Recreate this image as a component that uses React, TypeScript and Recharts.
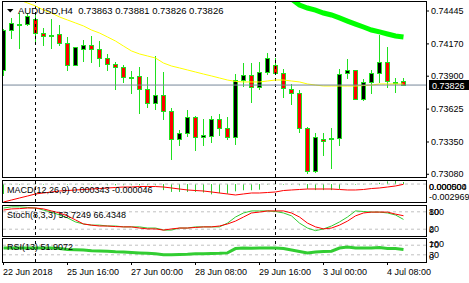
import {
  ComposedChart,
  Bar,
  Line,
  XAxis,
  YAxis,
  ReferenceLine,
} from "recharts";

// AUDUSD H4 candles, oldest first
const opens = [
  0.73952, 0.74286, 0.74336, 0.74336, 0.74378, 0.74261, 0.74244, 0.74253, 0.74177, 0.73994,
  0.74127, 0.74161, 0.74127, 0.74052, 0.74002, 0.73977, 0.73893, 0.73902, 0.73793, 0.73676,
  0.73743, 0.73609, 0.73375, 0.73425, 0.73559, 0.73392, 0.734, 0.73542, 0.73467, 0.73392,
  0.73868, 0.7391, 0.7381, 0.73935, 0.73994, 0.73927, 0.73793, 0.7376, 0.73467, 0.73107,
  0.73375, 0.73375, 0.73383, 0.73927, 0.73952, 0.73709, 0.73851, 0.73927, 0.74019, 0.73851, 0.73863,
];
const highs = [
  0.74294, 0.74386, 0.74428, 0.74428, 0.74428, 0.74303, 0.74378, 0.74328, 0.74228, 0.74144,
  0.74203, 0.74236, 0.74194, 0.74086, 0.74019, 0.73994, 0.73943, 0.73977, 0.73893, 0.74069,
  0.73935, 0.73634, 0.7345, 0.73617, 0.73565, 0.73542, 0.73567, 0.73584, 0.73559, 0.73918,
  0.7401, 0.7401, 0.74019, 0.74094, 0.74052, 0.7396, 0.73835, 0.73785, 0.73475, 0.73425,
  0.73425, 0.73467, 0.7396, 0.74044, 0.73952, 0.73877, 0.73952, 0.74244, 0.74144, 0.73885, 0.73881,
];
const lows = [
  0.7391, 0.74219, 0.74136, 0.7433, 0.74194, 0.74161, 0.74136, 0.74161, 0.73952, 0.73994,
  0.74027, 0.74019, 0.73985, 0.73952, 0.73793, 0.73851, 0.7376, 0.73592, 0.73642, 0.73626,
  0.73542, 0.73208, 0.73325, 0.734, 0.73283, 0.73325, 0.7335, 0.73409, 0.73375, 0.73333,
  0.73818, 0.73684, 0.73793, 0.73918, 0.73918, 0.73726, 0.73668, 0.73433, 0.73091, 0.73099,
  0.73241, 0.73133, 0.73325, 0.73885, 0.73709, 0.73701, 0.7376, 0.73851, 0.7381, 0.73768, 0.73826,
];
const closes = [
  0.74286, 0.74345, 0.7434, 0.74403, 0.74261, 0.74236, 0.7424, 0.74177, 0.73994, 0.74144,
  0.74161, 0.74127, 0.74052, 0.74002, 0.73977, 0.73893, 0.7389, 0.73793, 0.73676, 0.73743,
  0.73609, 0.73375, 0.73425, 0.73559, 0.73392, 0.73409, 0.73542, 0.73467, 0.73392, 0.73868,
  0.7391, 0.7381, 0.73935, 0.74052, 0.73927, 0.73801, 0.7376, 0.73467, 0.73107, 0.73392,
  0.73358, 0.73383, 0.73918, 0.73952, 0.73709, 0.73851, 0.73927, 0.74019, 0.7386, 0.73855, 0.73826,
];

// yellow moving average
const maSlow = [
  0.74587, 0.74562, 0.74537, 0.74512, 0.74487, 0.74453, 0.74428, 0.74395, 0.7437, 0.74345,
  0.7432, 0.74286, 0.74261, 0.74228, 0.74194, 0.74152, 0.74111, 0.74086, 0.74069, 0.74052,
  0.7401, 0.73985, 0.73969, 0.73952, 0.73935, 0.73918, 0.73902, 0.73885, 0.73868, 0.73856,
  0.73852, 0.73852, 0.73852, 0.7386, 0.73868, 0.73868, 0.7386, 0.73852, 0.73835, 0.73826,
  0.73818, 0.73818, 0.73818, 0.73818, 0.73818, 0.73822, 0.73826, 0.73835, 0.73835, 0.73835, 0.73835,
];
// thick green average, only visible from candle 36 on
const maFastStart = 36;
const maFast = [
  0.74545, 0.74495, 0.7447, 0.74453, 0.74428, 0.74412, 0.74387,
  0.74361, 0.74336, 0.74311, 0.74286, 0.7427, 0.74253, 0.74236, 0.74228,
];

const macdMain = [
  -0.00164, -0.0001, -0.0001, -0.0001, -0.0001, -0.0001, -0.0001, -0.0001, -0.0001, -0.0001,
  -0.0001, -0.0001, -0.0001, -0.0002, -0.0002, -0.0002, -0.0002, -0.0002, -0.0002, -0.0002,
  -0.001, -0.0013, -0.0013, -0.0013, -0.0013, -0.0014, -0.0017, -0.0015, -0.0016, -0.0012,
  -0.00103, -0.00103, -0.00093, -0.0001, -0.0001, -0.0001, -0.0001, -0.0002, -0.0008, -0.001,
  -0.001, -0.001, -0.0008, -0.0001, -0.0001, 0.00002, 0.0001, 0.0002, 0.00045, 0.000504, 0.000343,
];
const macdSignal = [
  -0.002969, -0.00264, -0.00231, -0.00198, -0.00164, -0.00148, -0.00131, -0.00115, -0.00107, -0.00098,
  -0.0009, -0.00082, -0.00074, -0.00065, -0.00057, -0.00049, -0.00049, -0.00041, -0.00041, -0.00041,
  -0.00049, -0.00065, -0.00082, -0.00098, -0.00107, -0.00115, -0.00131, -0.00148, -0.00164, -0.00181,
  -0.00164, -0.00148, -0.00148, -0.0014, -0.00131, -0.00107, -0.00098, -0.0009, -0.00082, -0.00082,
  -0.00082, -0.00082, -0.0009, -0.00098, -0.00098, -0.0009, -0.00074, -0.00065, -0.00049, -0.00032, -0.000046,
];

const stochMain = [
  93, 97, 97, 95, 93, 86, 79, 69, 59, 45,
  38, 34, 34, 31, 31, 28, 28, 28, 24, 24,
  17, 17, 24, 24, 28, 28, 28, 28, 41, 62,
  76, 83, 83, 83, 81, 76, 66, 41, 24, 15,
  21, 31, 45, 62, 83, 81, 79, 79, 76, 69, 53.7249,
];
const stochSignal = [
  86, 90, 91, 93, 93, 90, 83, 76, 66, 52,
  38, 34, 31, 31, 29, 28, 28, 24, 21, 21,
  17, 21, 24, 24, 26, 28, 28, 31, 38, 48,
  62, 76, 79, 83, 83, 83, 76, 62, 41, 28,
  21, 24, 34, 48, 66, 76, 79, 79, 79, 72, 66.4348,
];

const rsiValues = [
  58, 58, 58, 58, 58, 58, 58, 56, 52, 51,
  50, 47, 46, 45, 43, 42, 40, 38, 36, 34,
  30, 30, 31, 32, 34, 34, 35, 36, 38, 56,
  58, 57, 58, 58, 58, 56, 50, 44, 38, 42,
  44, 45, 58, 62, 58, 58, 58, 60, 56, 56, 51.9072,
];

const dateTicks = [0, 8, 16, 24, 32, 40, 48];
const dateLabels = [
  "22 Jun 2018",
  "25 Jun 16:00",
  "27 Jun 00:00",
  "28 Jun 08:00",
  "29 Jun 16:00",
  "3 Jul 00:00",
  "4 Jul 08:00",
];
const priceTicks = [0.74445, 0.7417, 0.739, 0.73625, 0.7335, 0.7308];
const macdTicks = [-0.002969, 0, 0.000504];
const stochTicks = [0, 20, 80, 100];
const stochLevels = [20, 80];
const rsiTicks = [0, 30, 70, 100];
const rsiLevels = [30, 70];
const weekSeparators = [4, 34];

const data = opens.map((open, i) => ({
  i,
  open,
  high: highs[i],
  low: lows[i],
  close: closes[i],
  range: [lows[i], highs[i]],
  ma: maSlow[i],
  ma2: i >= maFastStart ? maFast[i - maFastStart] : null,
  macd: macdMain[i],
  signal: macdSignal[i],
  k: stochMain[i],
  d: stochSignal[i],
  rsi: rsiValues[i],
}));

const last = opens.length - 1;
const FONT = "'Liberation Sans', Arial, sans-serif";
const W = 469;
const AXIS_W = 43;
const MARGIN = { top: 0, right: 0, bottom: 0, left: 2 };
const X_DOMAIN: [number, number] = [-0.1875, 52.8125];

const COLORS = {
  candle: "#1fe01f",
  bull: "#000000",
  bear: "#ff0000",
  maSlow: "#ffff00",
  maFast: "#00ff00",
  bid: "#778899",
  level: "#c0c0c0",
  ind: "#32cd32",
  signal: "#ff0000",
};

const Candle = (props: any) => {
  const { x, y, width, height, payload } = props;
  const { open, close, high, low } = payload;
  const top = Math.min(y, y + height);
  const h = Math.abs(height);
  const cx = Math.floor(x + width / 2) + 0.5;
  const py = (v: number) => (high === low ? top : top + ((high - v) / (high - low)) * h);
  const bodyTop = Math.round(Math.min(py(open), py(close))) + 0.5;
  let bodyBot = Math.round(Math.max(py(open), py(close))) + 0.5;
  if (bodyBot - bodyTop < 1) bodyBot = bodyTop + 1;
  return (
    <g>
      <line x1={cx} x2={cx} y1={Math.round(top)} y2={Math.round(top + h) + 1} stroke={COLORS.candle} />
      <rect
        x={cx - 2}
        y={bodyTop}
        width={4}
        height={bodyBot - bodyTop}
        fill={close > open ? COLORS.bull : COLORS.bear}
        stroke={COLORS.candle}
      />
    </g>
  );
};

const HistBar = (props: any) => {
  const { x, y, width, height } = props;
  const top = Math.min(y, y + height);
  const h = Math.max(Math.abs(height), 0.5);
  return <rect x={Math.floor(x + width / 2)} y={top} width={1} height={h} fill={COLORS.ind} />;
};

const PriceTick = ({ x, y, payload }: any) => (
  <text x={x} y={y + 3} fontSize={9} fontFamily={FONT} fill="#000">
    {payload.value.toFixed(5)}
  </text>
);

// sub-window scale labels stay inside their window, like the terminal does
const levelTick = (plotH: number, fmt: (v: number) => string) => (p: any) => {
  const y = Math.min(Math.max(p.y, 5.5), plotH - 5.5);
  return (
    <text x={p.x} y={y + 3} fontSize={9} fontFamily={FONT} fill="#000">
      {fmt(p.payload.value)}
    </text>
  );
};

const DateTick = ({ x, y, payload }: any) => (
  <text x={x - 0.5} y={y + 8} fontSize={9} fontFamily={FONT} fill="#000">
    {dateLabels[dateTicks.indexOf(payload.value)]}
  </text>
);

const BidTag = (props: any) => {
  const vb = props.viewBox || {};
  const left = vb.x + vb.width + 3;
  const y = Math.round(vb.y);
  return (
    <g>
      <rect x={left} y={y - 5} width={41} height={10} fill="#000" />
      <text x={left + 3} y={y + 3.5} fontSize={9} fontFamily={FONT} fill="#fff">
        {closes[last].toFixed(5)}
      </text>
    </g>
  );
};

const frames = [
  { top: 1, height: 177 },
  { top: 180, height: 23 },
  { top: 205, height: 32 },
  { top: 238, height: 25 },
];

const hiddenX = (
  <XAxis type="number" dataKey="i" domain={X_DOMAIN} allowDataOverflow hide />
);

const separators = (key: string) =>
  weekSeparators.map((s) => (
    <ReferenceLine key={key + s} x={s} stroke="#000" strokeDasharray="3 3" />
  ));

export default function App() {
  const title = `AUDUSD,H4  ${opens[last].toFixed(5)} ${highs[last].toFixed(5)} ${lows[last].toFixed(5)} ${closes[last].toFixed(5)}`;
  return (
    <div
      style={{
        position: "fixed",
        left: 0,
        top: 0,
        width: W,
        height: 283,
        background: "#fff",
        overflow: "hidden",
      }}
    >
      {/* price window */}
      <div style={{ position: "absolute", left: 0, top: 1 }}>
        <ComposedChart
          width={W}
          height={176}
          data={data}
          margin={MARGIN}
          style={{ overflow: "visible" }}
        >
          {hiddenX}
          <YAxis
            orientation="right"
            width={AXIS_W}
            type="number"
            domain={[0.730574, 0.745286]}
            allowDataOverflow
            ticks={priceTicks}
            interval={0}
            axisLine={false}
            stroke="#000"
            tickSize={3}
            tickMargin={2}
            tick={<PriceTick />}
          />
          {separators("p")}
          <Line
            dataKey="ma"
            type="linear"
            stroke={COLORS.maSlow}
            strokeWidth={1}
            dot={false}
            isAnimationActive={false}
          />
          <Line
            dataKey="ma2"
            type="linear"
            stroke={COLORS.maFast}
            strokeWidth={5}
            dot={false}
            isAnimationActive={false}
          />
          <ReferenceLine y={closes[last]} stroke={COLORS.bid} label={<BidTag />} />
          <Bar dataKey="range" barSize={4} shape={<Candle />} isAnimationActive={false} />
        </ComposedChart>
      </div>

      {/* MACD */}
      <div style={{ position: "absolute", left: 0, top: 181 }}>
        <ComposedChart width={W} height={21} data={data} margin={MARGIN}>
          {hiddenX}
          <YAxis
            orientation="right"
            width={AXIS_W}
            type="number"
            domain={[macdTicks[0], macdTicks[2]]}
            allowDataOverflow
            ticks={macdTicks}
            interval={0}
            axisLine={false}
            tickLine={false}
            tickSize={3}
            tickMargin={0}
            tick={levelTick(21, (v) => v.toFixed(6))}
          />
          <ReferenceLine y={0} stroke={COLORS.level} strokeDasharray="3 3" />
          {separators("m")}
          <Bar dataKey="macd" barSize={4} shape={<HistBar />} isAnimationActive={false} />
          <Line
            dataKey="signal"
            type="linear"
            stroke={COLORS.signal}
            strokeWidth={1}
            dot={false}
            isAnimationActive={false}
          />
        </ComposedChart>
      </div>

      {/* Stochastic */}
      <div style={{ position: "absolute", left: 0, top: 206 }}>
        <ComposedChart width={W} height={29} data={data} margin={MARGIN}>
          {hiddenX}
          <YAxis
            orientation="right"
            width={AXIS_W}
            type="number"
            domain={[0, 100]}
            allowDataOverflow
            ticks={stochTicks}
            interval={0}
            axisLine={false}
            tickLine={false}
            tickSize={3}
            tickMargin={0}
            tick={levelTick(29, (v) => String(v))}
          />
          {stochLevels.map((l) => (
            <ReferenceLine key={l} y={l} stroke={COLORS.level} strokeDasharray="3 3" />
          ))}
          {separators("s")}
          <Line
            dataKey="k"
            type="linear"
            stroke={COLORS.ind}
            strokeWidth={1}
            dot={false}
            isAnimationActive={false}
          />
          <Line
            dataKey="d"
            type="linear"
            stroke={COLORS.signal}
            strokeWidth={1}
            dot={false}
            isAnimationActive={false}
          />
        </ComposedChart>
      </div>

      {/* RSI + time axis */}
      <div style={{ position: "absolute", left: 0, top: 238 }}>
        <ComposedChart width={W} height={45} data={data} margin={MARGIN}>
          <XAxis
            type="number"
            dataKey="i"
            domain={X_DOMAIN}
            allowDataOverflow
            ticks={dateTicks}
            interval={0}
            height={21}
            axisLine={false}
            stroke="#000"
            tickSize={3}
            tickMargin={2}
            tick={<DateTick />}
          />
          <YAxis
            orientation="right"
            width={AXIS_W}
            type="number"
            domain={[0, 100]}
            allowDataOverflow
            ticks={rsiTicks}
            interval={0}
            axisLine={false}
            tickLine={false}
            tickSize={3}
            tickMargin={0}
            tick={levelTick(24, (v) => String(v))}
          />
          {rsiLevels.map((l) => (
            <ReferenceLine key={l} y={l} stroke={COLORS.level} strokeDasharray="3 3" />
          ))}
          {separators("r")}
          <Line
            dataKey="rsi"
            type="linear"
            stroke={COLORS.ind}
            strokeWidth={3}
            dot={false}
            isAnimationActive={false}
          />
        </ComposedChart>
      </div>

      {frames.map((f) => (
        <div
          key={f.top}
          style={{
            position: "absolute",
            left: 2,
            top: f.top,
            width: 425,
            height: f.height,
            border: "1px solid #000",
            boxSizing: "border-box",
            pointerEvents: "none",
          }}
        />
      ))}

      <svg
        width={W}
        height={283}
        style={{ position: "absolute", left: 0, top: 0, pointerEvents: "none" }}
        fontFamily={FONT}
      >
        <polygon points="7,9 13.5,9 10.25,12.5" fill="#000" />
        <text x={18} y={13.5} fontSize={9.5} fill="#000" style={{ whiteSpace: "pre" }}>
          {title}
        </text>
        <text x={7} y={193} fontSize={9} fill="#000">
          {`MACD(12,26,9) ${macdMain[last].toFixed(6)} ${macdSignal[last].toFixed(6)}`}
        </text>
        <text x={7} y={218} fontSize={9} fill="#000">
          {`Stoch(8,3,3) ${stochMain[last].toFixed(4)} ${stochSignal[last].toFixed(4)}`}
        </text>
        <text x={7} y={250} fontSize={9} fill="#000">
          {`RSI(13) ${rsiValues[last].toFixed(4)}`}
        </text>
      </svg>
    </div>
  );
}
